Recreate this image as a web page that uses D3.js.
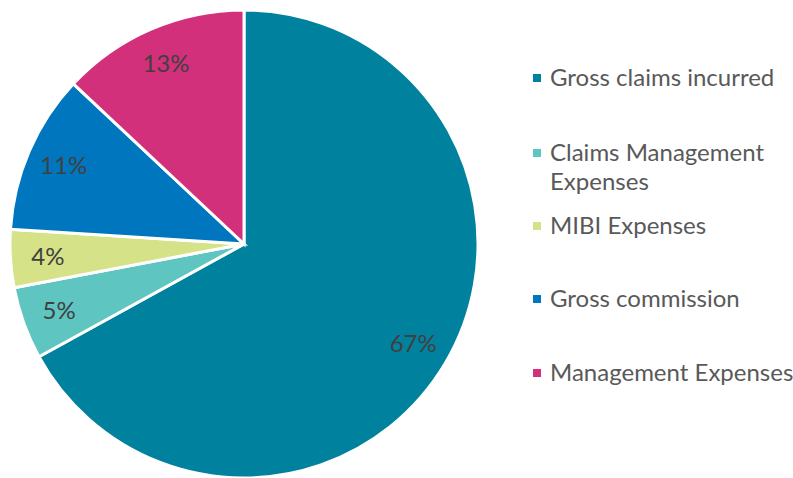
<!DOCTYPE html>
<html>
<head>
<meta charset="utf-8">
<script src="https://cdn.jsdelivr.net/npm/d3@7"></script>
<style>
  body { margin: 0; background: #fff; }
  svg { display: block; font-family: Lato, "Open Sans", sans-serif; }
</style>
</head>
<body>
<svg id="chart" width="793" height="478"></svg>
<script>
var categories = ["Gross claims incurred", "Claims Management Expenses", "MIBI Expenses", "Gross commission", "Management Expenses"];
var values     = [67, 5, 4, 11, 13];
var colors     = ["#00829F", "#5EC5C1", "#D6E287", "#0076BF", "#D3307B"];
// legend labels split onto lines the way the original wraps them
var legendLines = [["Gross claims incurred"], ["Claims Management", "Expenses"], ["MIBI Expenses"], ["Gross commission"], ["Management Expenses"]];

var svg = d3.select("#chart");
var cx = 244, cy = 244, radius = 234;

var color = d3.scaleOrdinal().domain(categories).range(colors);

var pie = d3.pie().sort(null).value(function(d){ return d.value; });
var data = categories.map(function(c, i){ return {name: c, value: values[i]}; });
var arcs = pie(data);

var arc = d3.arc().innerRadius(0).outerRadius(radius);
var labelArc = d3.arc().innerRadius(radius * 0.84).outerRadius(radius * 0.84);

var g = svg.append("g").attr("transform", "translate(" + cx + "," + cy + ")");

g.selectAll("path")
  .data(arcs)
  .enter()
  .append("path")
  .attr("d", arc)
  .attr("fill", function(d){ return color(d.data.name); })
  .attr("stroke", "#fff")
  .attr("stroke-width", 3)
  .attr("stroke-linejoin", "miter");

g.selectAll("text.lbl")
  .data(arcs)
  .enter()
  .append("text")
  .attr("class", "lbl")
  .attr("transform", function(d){ return "translate(" + labelArc.centroid(d) + ")"; })
  .attr("text-anchor", "middle")
  .attr("dy", "0.35em")
  .attr("fill", "#404040")
  .style("font-size", "24px")
  .text(function(d){ return d.data.value + "%"; });

// legend
var legendX = 537;
var legendY = [78, 153, 226, 299, 373];
var lineH = 29;

var leg = svg.selectAll("g.leg")
  .data(categories)
  .enter()
  .append("g")
  .attr("class", "leg")
  .attr("transform", function(d, i){ return "translate(" + legendX + "," + legendY[i] + ")"; });

leg.append("rect")
  .attr("x", -4).attr("y", -4)
  .attr("width", 8).attr("height", 8)
  .attr("fill", function(d){ return color(d); });

leg.each(function(d, i){
  var t = d3.select(this).append("text")
    .attr("x", 13)
    .attr("fill", "#595959")
    .style("font-size", "24px");
  legendLines[i].forEach(function(line, j){
    t.append("tspan")
      .attr("x", 13)
      .attr("y", j * lineH)
      .attr("dy", "0.35em")
      .text(line);
  });
});
</script>
</body>
</html>
